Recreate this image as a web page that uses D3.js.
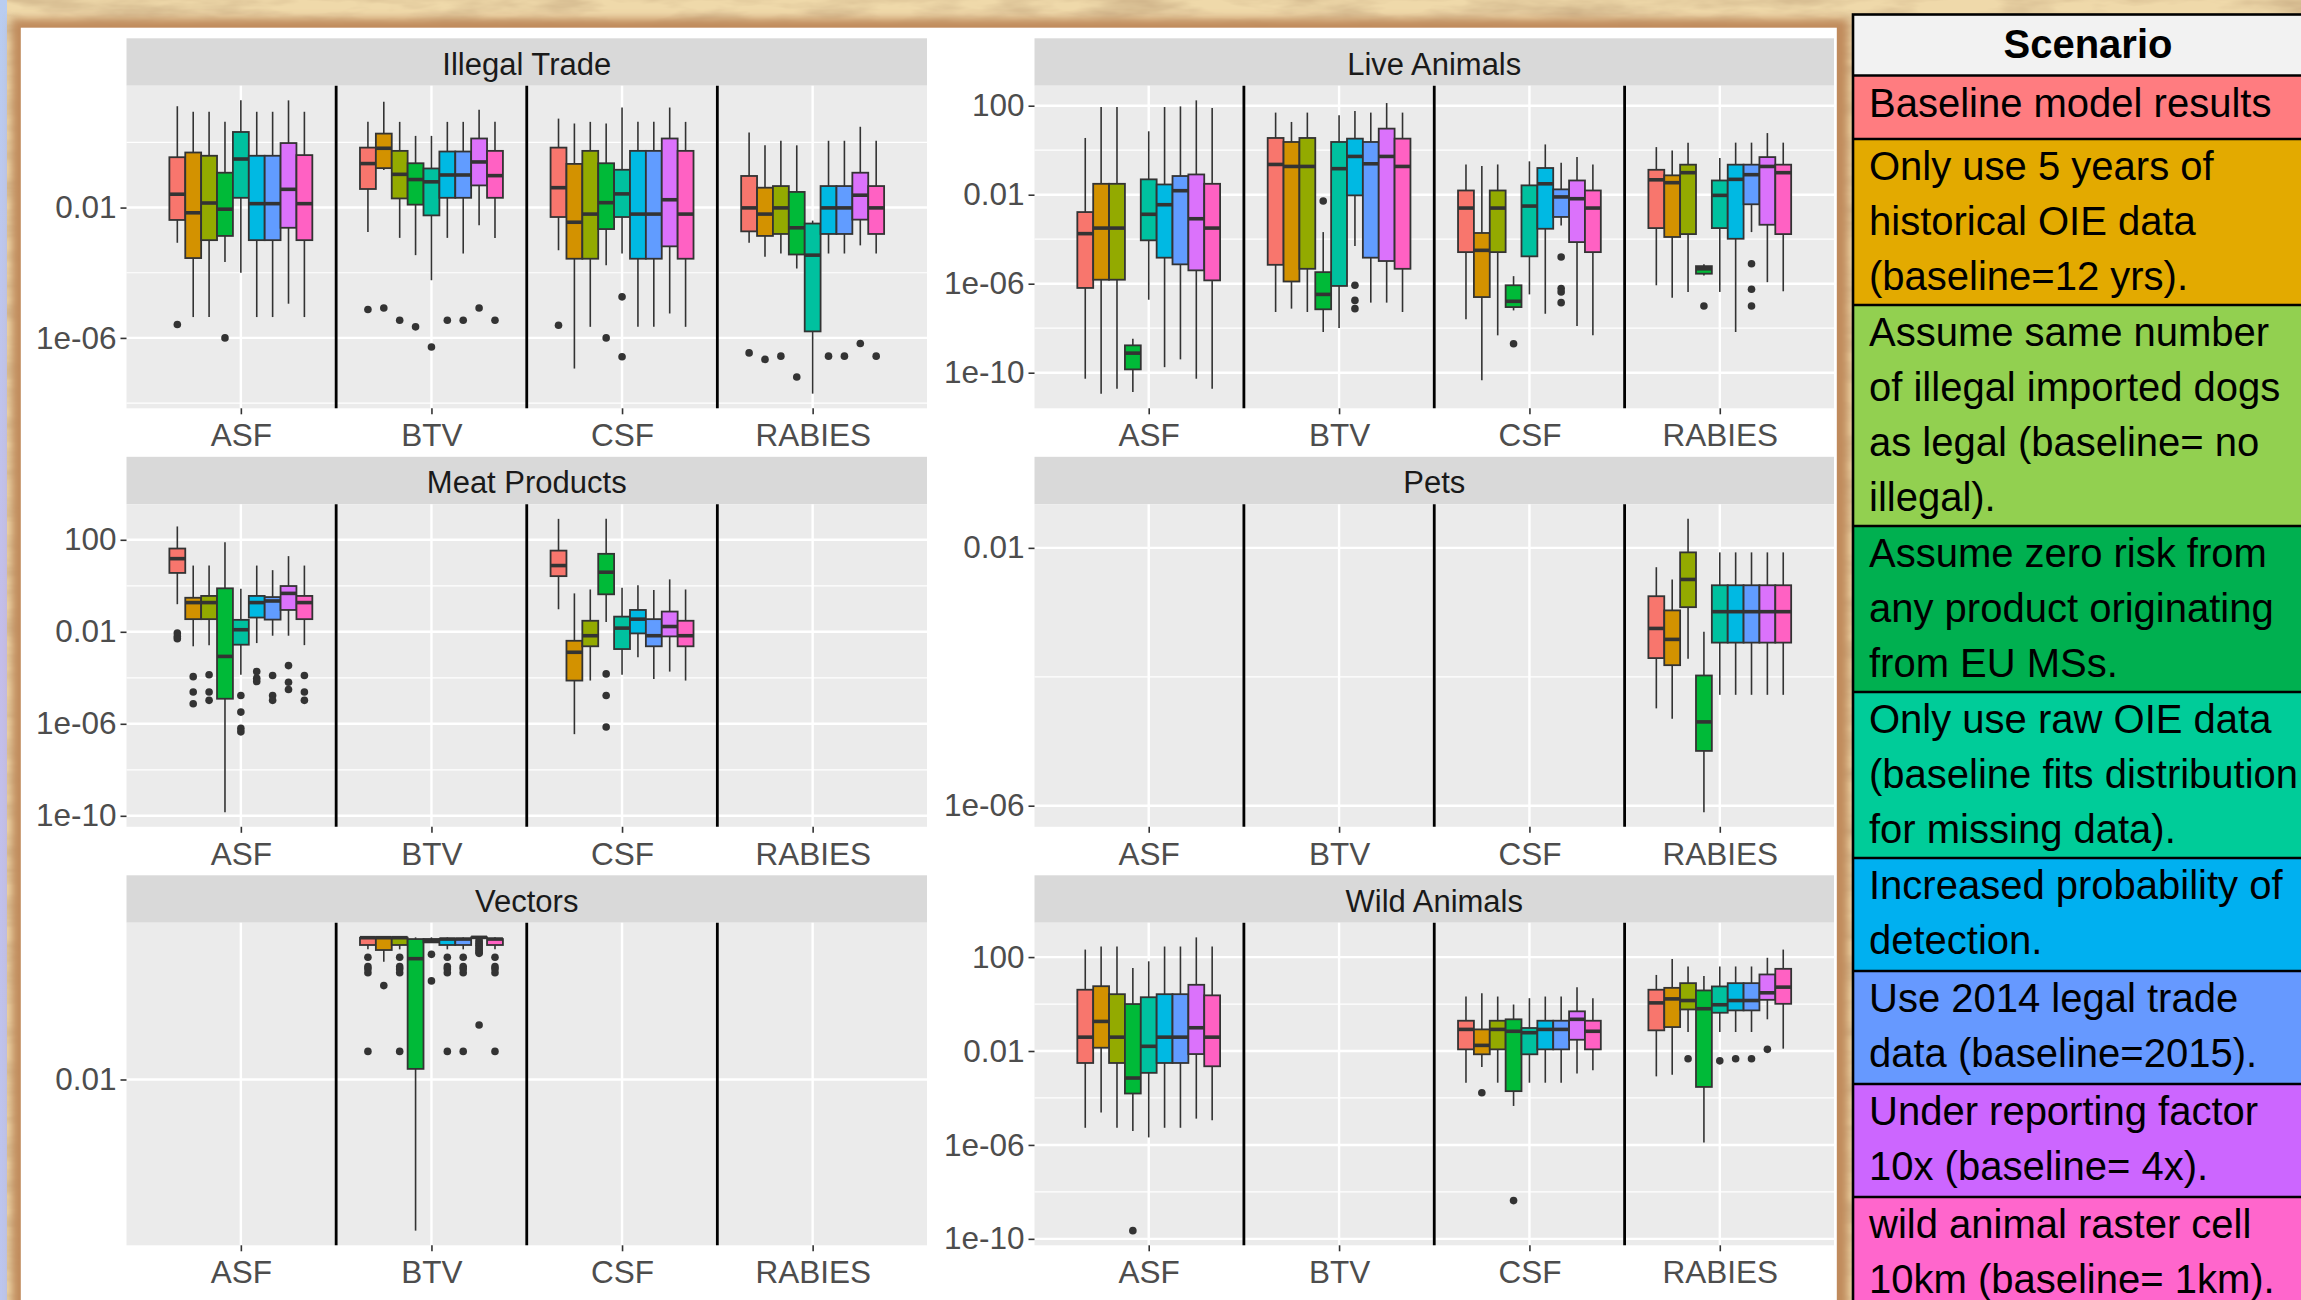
<!DOCTYPE html>
<html><head><meta charset="utf-8">
<script src="https://cdn.jsdelivr.net/npm/d3@7"></script>
<style>html,body{margin:0;padding:0;overflow:hidden;background:#ebd4a4}</style>
</head><body>
<svg id="chart" width="2301" height="1300"></svg>
<script>
// ---------------- DATA ----------------
const categories = ["ASF", "BTV", "CSF", "RABIES"];
const panelNames = ["Illegal Trade", "Live Animals", "Meat Products", "Pets", "Vectors", "Wild Animals"];
const boxColors = ["#F8766D", "#D39200", "#93AA00", "#00BA38", "#00C19F", "#00B9E3", "#619CFF", "#DB72FB", "#FF61C3"];
const legendColors = ["#ff7c80", "#e3aa00", "#92d050", "#00b050", "#00cc99", "#00b0f0", "#6699ff", "#cc66ff", "#ff66cc"];
const legendTitle = "Scenario";
const legendLines = [
  ["Baseline model results"],
  ["Only use 5 years of", "historical OIE data", "(baseline=12 yrs)."],
  ["Assume same number", "of illegal imported dogs", "as legal (baseline= no", "illegal)."],
  ["Assume zero risk from", "any product originating", "from EU MSs."],
  ["Only use raw OIE data", "(baseline fits distribution", "for missing data)."],
  ["Increased probability of", "detection."],
  ["Use 2014 legal trade", "data (baseline=2015)."],
  ["Under reporting factor", "10x (baseline= 4x)."],
  ["wild animal raster cell", "10km (baseline= 1km)."]
];
const majorTicks = [1e-10, 1e-6, 1e-2, 1e2];
const majorLabels = ["1e-10", "1e-06", "0.01", "100"];
const minorTicks = [1e-8, 1e-4, 1];

// Box statistics as log10 exponents: [lowerWhisker, Q1, median, Q3, upperWhisker, ...outliers]
const illegalTrade = {
  ASF: [[-3.08,-2.38,-1.59,-0.455,1.11,-5.59],[-5.36,-3.55,-2.16,-0.31,0.94],[-5.36,-3.0,-1.86,-0.41,0.94],[-3.67,-2.87,-2.05,-0.93,0.63,-6.0],[-4.0,-1.7,-0.51,0.32,1.29],[-5.36,-3.0,-1.88,-0.41,0.94],[-5.36,-3.0,-1.88,-0.41,0.94],[-4.95,-2.62,-1.44,-0.02,1.29],[-5.36,-3.0,-1.88,-0.39,0.94]],
  BTV: [[-2.75,-1.43,-0.65,-0.16,0.63,-5.13],[-0.85,-0.79,-0.18,0.27,1.25,-5.08],[-2.93,-1.72,-0.98,-0.26,0.63,-5.46],[-3.46,-1.91,-1.14,-0.64,0.2,-5.66],[-4.23,-2.24,-1.21,-0.8,0.2,-6.28],[-2.93,-1.7,-1.0,-0.28,0.63,-5.46],[-3.41,-1.7,-1.0,-0.28,0.63,-5.46],[-2.54,-1.32,-0.6,0.12,1.0,-5.08],[-2.93,-1.7,-1.02,-0.26,0.63,-5.46]],
  CSF: [[-3.31,-2.29,-1.39,-0.16,0.73,-5.61],[-6.94,-3.57,-2.45,-0.66,0.58],[-5.66,-3.57,-2.2,-0.26,0.63],[-3.77,-2.66,-1.85,-0.64,0.58,-6.0],[-3.41,-2.29,-1.58,-0.84,1.07,-4.74,-6.58],[-5.66,-3.57,-2.2,-0.26,0.63],[-5.66,-3.57,-2.2,-0.26,0.63],[-5.25,-3.19,-1.76,0.12,1.07],[-5.66,-3.57,-2.2,-0.26,0.63]],
  RABIES: [[-3.08,-2.73,-2.01,-1.03,0.3,-6.46],[-3.51,-2.87,-2.2,-1.39,-0.09,-6.66],[-3.41,-2.81,-2.01,-1.34,0.05,-6.56],[-3.87,-3.44,-2.62,-1.52,-0.09,-7.2],[-7.71,-5.8,-3.46,-2.49,-2.4],[-3.41,-2.81,-2.01,-1.34,0.05,-6.56],[-3.41,-2.81,-2.01,-1.34,0.05,-6.56],[-3.16,-2.37,-1.62,-0.93,0.48,-6.17],[-3.41,-2.81,-2.01,-1.34,0.05,-6.56]]
};
const liveAnimals = {
  ASF: [[-10.27,-6.19,-3.75,-2.78,0.55],[-10.94,-5.82,-3.5,-1.51,1.94],[-10.72,-5.82,-3.5,-1.51,1.94],[-10.87,-9.85,-9.12,-8.77,-8.47],[-6.72,-4.05,-2.88,-1.31,0.85],[-9.75,-4.83,-2.45,-1.54,1.94],[-9.4,-5.13,-1.82,-1.16,1.97],[-10.27,-5.4,-3.08,-1.09,2.24],[-10.72,-5.85,-3.5,-1.51,1.9]],
  BTV: [[-7.27,-5.15,-0.64,0.55,1.69],[-7.12,-5.9,-0.73,0.37,1.27],[-7.27,-5.33,-0.73,0.55,1.69],[-8.17,-7.15,-6.48,-5.48,-3.68,-2.28],[-7.99,-6.1,-0.83,0.37,1.57],[-4.31,-2.03,-0.28,0.52,1.76,-6.07,-6.75,-7.12],[-6.85,-4.83,-0.61,0.37,1.69],[-6.85,-4.98,-0.28,0.97,2.12],[-7.27,-5.33,-0.73,0.52,1.69]],
  CSF: [[-7.6,-4.58,-2.6,-1.81,-0.64],[-10.34,-6.6,-4.5,-3.72,-0.71],[-8.32,-4.58,-2.6,-1.81,-0.64],[-7.2,-7.05,-6.79,-6.07,-5.66,-8.7],[-6.48,-4.77,-2.51,-1.58,-0.5],[-7.35,-3.53,-1.51,-0.8,0.26],[-3.38,-3.0,-2.1,-1.76,-0.56,-4.8,-6.22,-6.37,-6.85],[-7.9,-4.13,-2.18,-1.36,-0.31],[-8.32,-4.58,-2.6,-1.81,-0.64]],
  RABIES: [[-6.07,-3.5,-1.33,-0.88,0.14],[-6.63,-3.9,-1.46,-1.13,-0.01],[-6.37,-3.77,-1.01,-0.65,0.34],[-5.63,-5.55,-5.33,-5.21,-5.13,-7.0],[-6.37,-3.5,-2.03,-1.36,-0.35],[-8.17,-3.98,-1.31,-0.65,0.34],[-3.68,-2.43,-1.1,-0.65,0.34,-5.1,-6.25,-7.0],[-5.93,-3.35,-0.73,-0.31,0.77],[-6.34,-3.77,-1.01,-0.65,0.34]]
};
const meatProducts = {
  ASF: [[-0.8,0.56,1.18,1.62,2.58,-2.05,-2.2,-2.3],[-2.63,-1.45,-0.73,-0.52,0.88,-3.95,-4.62,-5.13],[-2.58,-1.45,-0.73,-0.44,0.88,-3.87,-4.62,-4.98],[-9.84,-4.91,-3.07,-0.11,1.89],[-3.87,-2.56,-1.91,-1.48,-0.13,-4.77,-5.49,-6.2,-6.35],[-2.49,-1.38,-0.73,-0.44,0.88,-3.73,-4.02,-4.16],[-2.17,-1.47,-0.66,-0.49,0.68,-3.9,-4.77,-4.98],[-2.17,-1.05,-0.33,-0.01,1.29,-3.47,-4.19,-4.51],[-2.58,-1.45,-0.73,-0.44,0.88,-3.9,-4.62,-4.98]],
  BTV: [],
  CSF: [[-1.02,0.42,0.88,1.53,2.91],[-6.45,-4.12,-2.89,-2.39,-0.33],[-4.12,-2.63,-2.17,-1.52,-0.16],[-1.57,-0.37,0.59,1.39,2.91,-3.83,-4.77,-6.14],[-3.87,-2.75,-1.84,-1.34,-0.08],[-3.11,-2.07,-1.45,-1.05,0.02],[-4.05,-2.63,-2.17,-1.45,-0.18],[-3.73,-2.2,-1.77,-1.12,0.28],[-4.12,-2.63,-2.17,-1.52,-0.16]],
  RABIES: []
};
const pets = {
  ASF: [], BTV: [], CSF: [],
  RABIES: [[-4.49,-3.71,-3.25,-2.75,-2.3],[-4.65,-3.82,-3.42,-2.97,-2.49],[-3.72,-2.92,-2.49,-2.07,-1.55],[-6.1,-5.15,-4.7,-3.98,-3.3],[-4.28,-3.47,-2.99,-2.58,-2.07],[-4.28,-3.47,-2.99,-2.58,-2.07],[-4.28,-3.47,-2.99,-2.58,-2.07],[-4.28,-3.47,-2.99,-2.58,-2.07],[-4.28,-3.47,-2.99,-2.58,-2.07]]
};
const vectors = {
  ASF: [],
  BTV: [[-0.467,-0.416,-0.33,-0.33,-0.326,-0.561,-0.671,-0.7,-0.742,-1.669],[-0.612,-0.475,-0.33,-0.326,-0.326,-0.894],[-0.467,-0.416,-0.33,-0.33,-0.326,-0.561,-0.671,-0.7,-0.742,-1.669],[-3.78,-1.875,-0.577,-0.346,-0.326],[-0.39,-0.385,-0.36,-0.346,-0.326,-0.526,-0.839],[-0.467,-0.416,-0.346,-0.346,-0.326,-0.561,-0.671,-0.7,-0.742,-1.669],[-0.467,-0.416,-0.346,-0.346,-0.326,-0.561,-0.671,-0.7,-0.742,-1.669],[-0.326,-0.326,-0.326,-0.326,-0.326,-0.357,-0.38,-0.4,-0.42,-0.44,-0.46,-0.48,-0.5,-0.514,-1.359],[-0.467,-0.416,-0.346,-0.346,-0.326,-0.561,-0.671,-0.7,-0.742,-1.669]],
  CSF: [], RABIES: []
};
const wildAnimals = {
  ASF: [[-5.27,-2.51,-1.41,0.61,2.32],[-4.62,-1.86,-0.74,0.76,2.45],[-5.27,-2.51,-1.41,0.42,2.45],[-5.41,-3.81,-3.15,0.0,1.53,-9.65],[-5.68,-2.93,-1.8,0.29,1.82],[-5.27,-2.51,-1.41,0.42,2.45],[-5.27,-2.51,-1.41,0.42,2.45],[-4.88,-2.13,-1.01,0.82,2.84],[-4.95,-2.65,-1.41,0.37,2.45]],
  BTV: [],
  CSF: [[-3.35,-1.93,-1.08,-0.71,0.32],[-2.68,-2.14,-1.76,-1.08,0.46,-3.78],[-3.35,-1.93,-1.08,-0.71,0.32],[-4.34,-3.71,-1.16,-0.65,-0.02,-8.37],[-3.35,-2.14,-1.22,-1.02,0.25],[-3.35,-1.93,-1.08,-0.71,0.32],[-3.35,-1.93,-1.08,-0.71,0.32],[-2.96,-1.52,-0.65,-0.31,0.72],[-2.82,-1.93,-1.16,-0.71,0.25]],
  RABIES: [[-3.08,-1.12,0.05,0.61,1.24],[-3.01,-0.98,0.22,0.69,1.92],[-1.19,-0.23,0.15,0.89,1.6,-2.33],[-5.9,-3.53,-0.2,0.58,1.19],[-1.19,-0.37,-0.03,0.75,1.6,-2.42],[-1.19,-0.27,0.15,0.89,1.6,-2.33],[-1.19,-0.27,0.15,0.89,1.6,-2.33],[-0.65,0.18,0.48,1.26,1.97,-1.93],[-1.9,0.01,0.72,1.5,2.32]]
};
const panelData = [illegalTrade, liveAnimals, meatProducts, pets, vectors, wildAnimals];

// ---------------- LAYOUT ----------------
const W = 2301, H = 1300;
const FONT = "'Liberation Sans', Arial, Helvetica, sans-serif";
const colX = [[126.5, 927], [1034.5, 1834]];
const rowTop = [38.3, 456.8, 875.3];
const stripH = 47.4, panelH = 370;

const svg = d3.select("#chart");
const defs = svg.append("defs");

// parchment texture
const f = defs.append("filter").attr("id", "parch").attr("x", 0).attr("y", 0).attr("width", 1).attr("height", 1);
f.append("feTurbulence").attr("type", "fractalNoise").attr("baseFrequency", "0.012 0.05").attr("numOctaves", 4).attr("seed", 7);
f.append("feColorMatrix").attr("type", "matrix").attr("values", "0 0 0 0 0.62  0 0 0 0 0.45  0 0 0 0 0.25  0 0 0 1.8 -0.62");
const blur = defs.append("filter").attr("id", "blur").attr("x", -0.1).attr("y", -0.1).attr("width", 1.2).attr("height", 1.2);
blur.append("feGaussianBlur").attr("stdDeviation", 4);
const lg = defs.append("linearGradient").attr("id", "leftEdge").attr("x1", 0).attr("y1", 0).attr("x2", 0).attr("y2", 1);
lg.append("stop").attr("offset", 0).attr("stop-color", "#b9cdf0");
lg.append("stop").attr("offset", 0.5).attr("stop-color", "#c4bde9");
lg.append("stop").attr("offset", 1).attr("stop-color", "#bcc6ee");

svg.append("rect").attr("width", W).attr("height", H).attr("fill", "#efd9aa");
svg.append("rect").attr("width", W).attr("height", H).attr("filter", "url(#parch)");
svg.append("rect").attr("x", 0).attr("y", 0).attr("width", 7).attr("height", H).attr("fill", "url(#leftEdge)");
// frame shadow around white plot area
svg.append("rect").attr("x", 12).attr("y", 19).attr("width", 1836).attr("height", H).attr("fill", "#c08a5c").attr("filter", "url(#blur)");
svg.append("rect").attr("x", 20.8).attr("y", 27.7).attr("width", 1816).attr("height", H).attr("fill", "#ffffff");

// ---------------- PANELS ----------------
panelNames.forEach((name, pi) => {
  const col = pi % 2, row = Math.floor(pi / 2);
  const data = panelData[pi];
  const x0 = colX[col][0], x1 = colX[col][1];
  const sTop = rowTop[row];
  const top = sTop + stripH, bottom = sTop + panelH;
  const g = svg.append("g");

  const x = d3.scalePoint().domain(categories).range([x0, x1]).padding(0.6);
  const step = x.step();
  const dodge = d3.scaleBand().domain(d3.range(9)).range([-0.375 * step, 0.375 * step]);
  const all = [];
  categories.forEach(c => (data[c] || []).forEach(b => b.forEach(v => all.push(v))));
  const lo = d3.min(all), hi = d3.max(all), pad = 0.05 * (hi - lo);
  const y = d3.scaleLog().domain([Math.pow(10, lo - pad), Math.pow(10, hi + pad)]).range([bottom, top]);
  const [dmin, dmax] = y.domain();
  const inDom = v => v >= dmin && v <= dmax;

  // strip
  g.append("rect").attr("x", x0).attr("y", sTop).attr("width", x1 - x0).attr("height", stripH).attr("fill", "#d9d9d9");
  g.append("text").attr("x", (x0 + x1) / 2).attr("y", sTop + 36.5).attr("text-anchor", "middle")
    .attr("font-family", FONT).attr("font-size", 31).attr("fill", "#1a1a1a").text(name);

  // panel background + grid
  g.append("rect").attr("x", x0).attr("y", top).attr("width", x1 - x0).attr("height", bottom - top).attr("fill", "#ebebeb");
  g.selectAll(".minor").data(minorTicks.filter(inDom)).join("line")
    .attr("x1", x0).attr("x2", x1).attr("y1", d => y(d)).attr("y2", d => y(d))
    .attr("stroke", "#ffffff").attr("stroke-width", 1.2);
  g.selectAll(".major").data(majorTicks.filter(inDom)).join("line")
    .attr("x1", x0).attr("x2", x1).attr("y1", d => y(d)).attr("y2", d => y(d))
    .attr("stroke", "#ffffff").attr("stroke-width", 2.4);
  g.selectAll(".vgrid").data(categories).join("line")
    .attr("x1", d => x(d)).attr("x2", d => x(d)).attr("y1", top).attr("y2", bottom)
    .attr("stroke", "#ffffff").attr("stroke-width", 2.4);

  // separators between categories
  g.selectAll(".sep").data(categories.slice(0, -1)).join("line")
    .attr("x1", d => x(d) + step / 2).attr("x2", d => x(d) + step / 2).attr("y1", top).attr("y2", bottom)
    .attr("stroke", "#000000").attr("stroke-width", 2.8);

  // boxes
  categories.forEach(c => {
    (data[c] || []).forEach((b, i) => {
      const bx = x(c) + dodge(i), bw = dodge.bandwidth(), cx = bx + bw / 2;
      const [wl, q1, med, q3, wt] = b.slice(0, 5).map(v => Math.pow(10, v));
      const outs = b.slice(5).map(v => Math.pow(10, v));
      g.append("line").attr("x1", cx).attr("x2", cx).attr("y1", y(wt)).attr("y2", y(q3)).attr("stroke", "#333333").attr("stroke-width", 1.6);
      g.append("line").attr("x1", cx).attr("x2", cx).attr("y1", y(q1)).attr("y2", y(wl)).attr("stroke", "#333333").attr("stroke-width", 1.6);
      g.append("rect").attr("x", bx).attr("y", y(q3)).attr("width", bw).attr("height", Math.max(0.5, y(q1) - y(q3)))
        .attr("fill", boxColors[i]).attr("stroke", "#333333").attr("stroke-width", 1.8);
      g.append("line").attr("x1", bx).attr("x2", bx + bw).attr("y1", y(med)).attr("y2", y(med)).attr("stroke", "#333333").attr("stroke-width", 3.6);
      g.selectAll(null).data(outs).join("circle").attr("cx", cx).attr("cy", d => y(d)).attr("r", 3.8).attr("fill", "#333333");
    });
  });

  // y axis
  const yAxis = d3.axisLeft(y).tickValues(majorTicks.filter(inDom))
    .tickFormat(d => majorLabels[majorTicks.indexOf(d)]).tickSize(6).tickPadding(4);
  const ya = g.append("g").attr("transform", `translate(${x0},0)`).call(yAxis);
  ya.select(".domain").remove();
  ya.selectAll("line").attr("stroke", "#333333").attr("stroke-width", 1.6);
  ya.selectAll("text").attr("font-family", FONT).attr("font-size", 31.5).attr("fill", "#4d4d4d");

  // x axis
  const xAxis = d3.axisBottom(x).tickSize(6).tickPadding(6);
  const xa = g.append("g").attr("transform", `translate(0,${bottom})`).call(xAxis);
  xa.select(".domain").remove();
  xa.selectAll("line").attr("stroke", "#333333").attr("stroke-width", 1.6);
  xa.selectAll("text").attr("font-family", FONT).attr("font-size", 31.5).attr("fill", "#4d4d4d")
    .attr("dy", null).attr("y", 38);
});

// ---------------- LEGEND ----------------
const legX = 1853, legW = 480, legTop = 14.5, titleH = 61, lineH = 55;
const leg = svg.append("g");
leg.append("rect").attr("x", legX).attr("y", legTop).attr("width", legW).attr("height", titleH).attr("fill", "#f2f2f2");
leg.append("text").attr("x", legX + 235).attr("y", legTop + 43).attr("text-anchor", "middle")
  .attr("font-family", FONT).attr("font-weight", "bold").attr("font-size", 40).attr("fill", "#000").text(legendTitle);
let yy = legTop + titleH;
const rowInfo = legendLines.map((lines, i) => {
  const h = lines.length === 1 ? 63.5 : lines.length * lineH + (lines.length === 2 ? 3 : 1);
  const r = { top: yy, h, lines, color: legendColors[i] };
  yy += h;
  return r;
});
rowInfo.forEach(r => {
  leg.append("rect").attr("x", legX).attr("y", r.top).attr("width", legW).attr("height", r.h).attr("fill", r.color);
  r.lines.forEach((t, j) => {
    leg.append("text").attr("x", legX + 16).attr("y", r.top + 41 + j * lineH)
      .attr("font-family", FONT).attr("font-size", 40).attr("fill", "#000").text(t);
  });
});
// borders
leg.append("rect").attr("x", legX).attr("y", legTop).attr("width", legW).attr("height", yy - legTop + 200)
  .attr("fill", "none").attr("stroke", "#000").attr("stroke-width", 2.6);
leg.selectAll(".sepl").data(rowInfo).join("line")
  .attr("x1", legX).attr("x2", legX + legW).attr("y1", d => d.top).attr("y2", d => d.top)
  .attr("stroke", "#000").attr("stroke-width", 2.4);
</script>
</body></html>
